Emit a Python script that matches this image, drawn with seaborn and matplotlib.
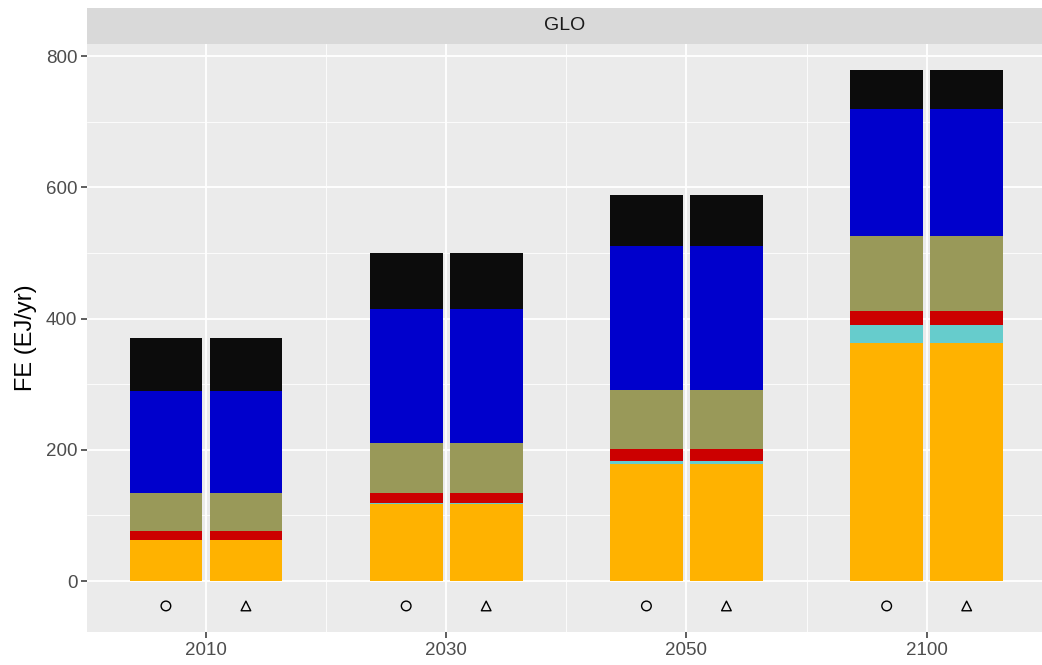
import seaborn as sns
import pandas as pd
import matplotlib.pyplot as plt

# final energy by carrier, EJ/yr
years = ["2010", "2030", "2050", "2100"]
scenarios = ["circle", "triangle"]
carriers = ["Electricity", "Hydrogen", "Heat", "Gases", "Liquids", "Solids"]
carrier_colors = ["#FFB200", "#66CCCC", "#CC0000", "#999959", "#0000CC", "#0C0C0C"]

electricity = [62.5, 118, 179, 362.7]
hydrogen = [0, 1, 4, 27.3]
heat = [13.5, 15, 18, 21]
gases = [58, 76, 90, 114.7]
liquids = [155.5, 204, 219.5, 193.3]
solids = [80.5, 85.5, 77.5, 59.7]

marker_level = -38
scen_markers = ["o", "^"]

values = [electricity, hydrogen, heat, gases, liquids, solids]

# long table, same numbers for both scenarios
rows = []
for scen in scenarios:
    for i, yr in enumerate(years):
        running = 0
        for carrier, vals in zip(carriers, values):
            running += vals[i]
            rows.append({"year": yr, "scenario": scen, "carrier": carrier,
                         "value": vals[i], "top": running})
df = pd.DataFrame(rows)

sns.set_theme(style="darkgrid", rc={
    "axes.facecolor": "#EBEBEB",
    "grid.color": "white",
    "axes.edgecolor": "none",
})
plt.rcParams["font.family"] = ["Liberation Sans", "DejaVu Sans"]

fig = plt.figure(figsize=(10.42, 6.65), dpi=100)
ax = fig.add_axes([87 / 1042, 1 - 632 / 665, 955 / 1042, 588 / 665])

# draw the stack from the top down so each layer covers the one above it
for carrier, col in reversed(list(zip(carriers, carrier_colors))):
    sub = df[df["carrier"] == carrier]
    sns.barplot(data=sub, x="year", y="top", hue="scenario", order=years,
                hue_order=scenarios, palette=[col, col], saturation=1,
                dodge=True, width=0.666, gap=0.09, errorbar=None,
                linewidth=0, legend=False, ax=ax)

# scenario markers below the bars
pts = pd.DataFrame({
    "scenario": [s for s in scenarios for _ in years],
    "pos": [i + (-0.1665 if s == scenarios[0] else 0.1665)
            for s in scenarios for i in range(len(years))],
    "y": [marker_level] * (len(years) * len(scenarios)),
})
sns.scatterplot(data=pts, x="pos", y="y", style="scenario",
                markers=dict(zip(scenarios, scen_markers)), s=48,
                legend=False, ax=ax)
for c in ax.collections:
    c.set_facecolor("none")
    c.set_edgecolor("black")
    c.set_linewidth(1.0)

ax.set_xlim(-0.495, 3.48)
ax.set_ylim(-77.7, 818.3)
ax.set_xticks(range(len(years)), years)
ax.set_xticks([0.5, 1.5, 2.5], minor=True)
ax.set_yticks([0, 200, 400, 600, 800])
ax.set_yticks([100, 300, 500, 700], minor=True)
ax.grid(True, which="major", color="white", linewidth=1.3)
ax.grid(True, which="minor", color="white", linewidth=0.6)
ax.set_axisbelow(True)
ax.tick_params(axis="both", which="major", bottom=True, left=True, length=4,
               width=1.1, color="#333333", labelsize=13.5,
               labelcolor="#4D4D4D", pad=3)
ax.tick_params(axis="both", which="minor", length=0)
ax.set_xlabel("")
ax.set_ylabel("FE (EJ/yr)", fontsize=17, color="black", labelpad=6)

# facet strip
strip = fig.add_axes([87 / 1042, 1 - 44 / 665, 955 / 1042, 36 / 665])
strip.set_facecolor("#D9D9D9")
strip.set_xticks([])
strip.set_yticks([])
strip.grid(False)
for sp in strip.spines.values():
    sp.set_visible(False)
strip.text(0.5, 0.5, "GLO", ha="center", va="center", fontsize=14,
           color="#1A1A1A", transform=strip.transAxes)

fig.savefig("out.png", dpi=100)
